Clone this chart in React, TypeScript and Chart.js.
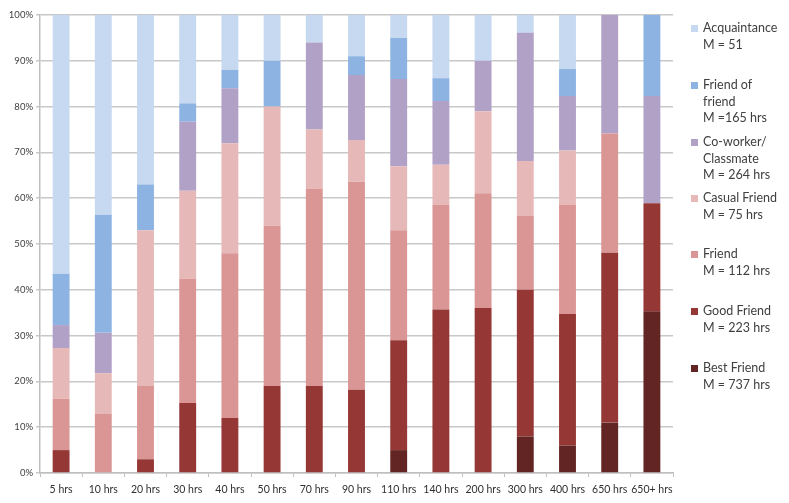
import React, { useEffect, useRef } from "react";
import { Chart, registerables } from "chart.js";

Chart.register(...registerables);

const categories = ["5 hrs", "10 hrs", "20 hrs", "30 hrs", "40 hrs", "50 hrs", "70 hrs", "90 hrs", "110 hrs", "140 hrs", "200 hrs", "300 hrs", "400 hrs", "650 hrs", "650+ hrs"];

const bestFriend = [0, 0, 0, 0, 0, 0, 0, 0, 5, 0, 0, 8, 6, 11, 35.3];
const goodFriend = [5, 0, 3, 15.3, 12, 19, 19, 18.2, 24, 35.7, 36, 32, 28.7, 37.1, 23.6];
const friend = [11.2, 13, 16, 27.1, 36, 35, 43, 45.4, 24, 22.8, 25.1, 16.1, 23.8, 26, 0];
const casualFriend = [11.1, 8.8, 34, 19.2, 24, 26, 13, 9.1, 14, 8.8, 17.9, 12, 11.9, 0, 0];
const coworker = [5, 8.8, 0, 15.1, 12, 0, 19, 14.2, 19, 13.9, 11, 28, 11.9, 25.9, 23.4];
const friendOfFriend = [11.2, 25.8, 10, 4, 4, 10, 0, 4.1, 9, 5, 0, 0, 5.9, 0, 17.7];
const acquaintance = [56.5, 43.6, 37, 19.3, 12, 10, 6, 9, 5, 13.8, 10, 3.9, 11.8, 0, 0];

const yTicks = [0, 10, 20, 30, 40, 50, 60, 70, 80, 90, 100];

const seriesNames = ["Best Friend", "Good Friend", "Friend", "Casual Friend", "Co-worker/Classmate", "Friend of friend", "Acquaintance"];
const seriesColors = ["#632523", "#953735", "#D99694", "#E6B9B8", "#B2A1C7", "#8DB3E2", "#C6D9F0"];

const legendItems = [
  { lines: ["Acquaintance", "M = 51"], color: "#C6D9F0", top: 20 },
  { lines: ["Friend of", "friend", "M =165 hrs"], color: "#8DB3E2", top: 77 },
  { lines: ["Co-worker/", "Classmate", "M = 264 hrs"], color: "#B2A1C7", top: 134 },
  { lines: ["Casual Friend", "M = 75 hrs"], color: "#E6B9B8", top: 190 },
  { lines: ["Friend", "M = 112 hrs"], color: "#D99694", top: 246 },
  { lines: ["Good Friend", "M = 223 hrs"], color: "#953735", top: 303 },
  { lines: ["Best Friend", "M = 737 hrs"], color: "#632523", top: 360 },
];

export default function App() {
  const ref = useRef<HTMLCanvasElement | null>(null);

  useEffect(() => {
    if (!ref.current) return;
    const values = [bestFriend, goodFriend, friend, casualFriend, coworker, friendOfFriend, acquaintance];
    const chart = new Chart(ref.current, {
      type: "bar",
      data: {
        labels: categories,
        datasets: values.map((v, i) => ({
          label: seriesNames[i],
          data: v,
          backgroundColor: seriesColors[i],
          borderWidth: 0,
          barPercentage: 0.4,
          categoryPercentage: 1,
        })),
      },
      options: {
        animation: false,
        responsive: false,
        maintainAspectRatio: false,
        layout: { padding: { left: 0, right: 116, top: 15, bottom: 0 } },
        plugins: { legend: { display: false }, tooltip: { enabled: false } },
        scales: {
          x: {
            stacked: true,
            grid: { display: true, drawOnChartArea: false, drawTicks: true, tickLength: 4, color: "#BFBFBF", offset: true },
            border: { color: "#BFBFBF", width: 1.5 },
            ticks: { color: "#303030", font: { family: "Lato", size: 10.5 }, maxRotation: 0, autoSkip: false, padding: 6 },
            afterFit: (s: any) => { s.height = 30; },
          },
          y: {
            stacked: true,
            min: 0,
            max: 100,
            afterBuildTicks: (s: any) => { s.ticks = yTicks.map((v) => ({ value: v })); },
            grid: { color: "#C8C8C8", lineWidth: 1.5, tickLength: 4 },
            border: { color: "#BFBFBF", width: 1.5 },
            ticks: { color: "#404040", font: { family: "Lato", size: 9.5 }, padding: 3, callback: (v: any) => v + "%" },
            afterFit: (s: any) => { s.width = 40; },
          },
        },
      },
    });
    return () => chart.destroy();
  }, []);

  return (
    <div style={{ position: "fixed", left: 0, top: 0, width: 789, height: 503, background: "#fff" }}>
      <canvas ref={ref} width={789} height={503} style={{ position: "absolute", left: 0, top: 0, width: 789, height: 503 }} />
      {legendItems.map((it, i) => (
        <div key={i} style={{ position: "absolute", left: 691, top: it.top, fontFamily: "Lato, 'Open Sans', sans-serif", fontSize: 12.5, lineHeight: "16.5px", color: "#404040" }}>
          <div style={{ position: "absolute", left: 0, top: 5, width: 7, height: 7, background: it.color }} />
          <div style={{ marginLeft: 12, whiteSpace: "nowrap" }}>
            {it.lines.map((l, j) => (
              <div key={j}>{l}</div>
            ))}
          </div>
        </div>
      ))}
    </div>
  );
}
